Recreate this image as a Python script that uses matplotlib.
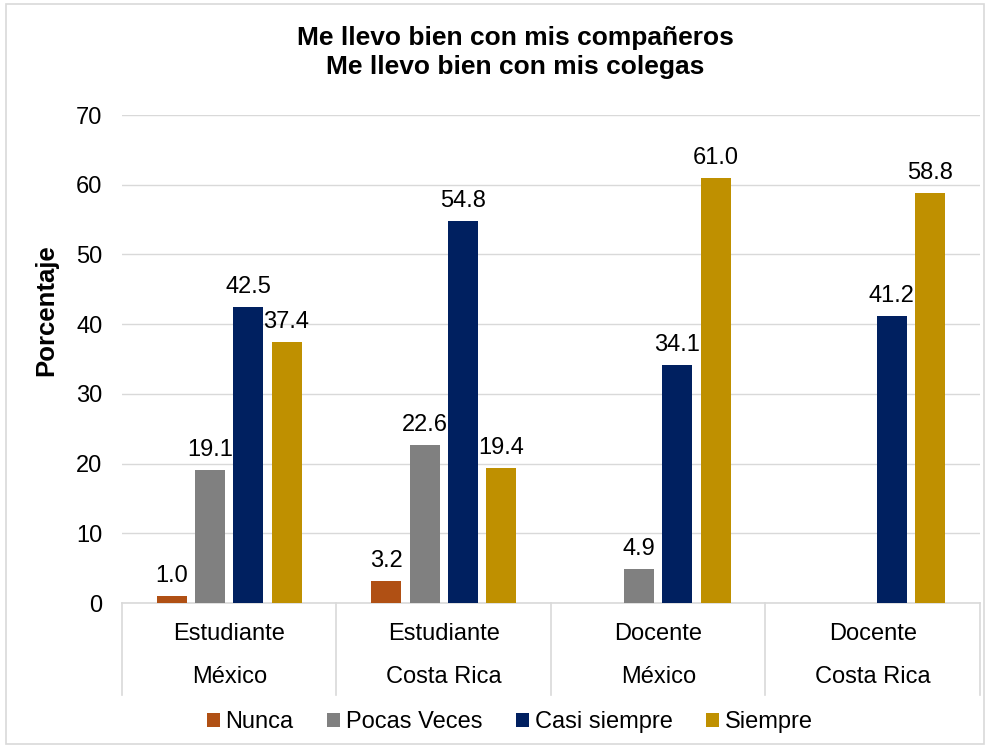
import numpy as np
import matplotlib
matplotlib.use("Agg")
import matplotlib.pyplot as plt
from matplotlib.patches import Rectangle

plt.rcParams['font.family'] = ['Liberation Sans', 'DejaVu Sans']

title = "Me llevo bien con mis compañeros\nMe llevo bien con mis colegas"
groups_top = ["Estudiante", "Estudiante", "Docente", "Docente"]
groups_bottom = ["México", "Costa Rica", "México", "Costa Rica"]
series = ["Nunca", "Pocas Veces", "Casi siempre", "Siempre"]
nunca = [1.0, 3.2, np.nan, np.nan]
pocas = [19.1, 22.6, 4.9, np.nan]
casi = [42.5, 54.8, 34.1, 41.2]
siempre = [37.4, 19.4, 61.0, 58.8]
colors = ["#B05014", "#808080", "#002060", "#BF9000"]
yticks = [0, 10, 20, 30, 40, 50, 60, 70]

values = [nunca, pocas, casi, siempre]
FS = 17

fig = plt.figure(figsize=(9.87, 7.48), dpi=100)
ax = fig.add_axes([122/987, 145/748, 858/987, 488/748])

x = np.arange(len(groups_top))
spacing = 0.178
width = 0.14
handles = []
for i, (name, vals, c) in enumerate(zip(series, values, colors)):
    off = (i - 1.5) * spacing
    v = np.array(vals, dtype=float)
    bars = ax.bar(x + off, np.nan_to_num(v), width, color=c, label=name, zorder=3)
    handles.append(bars)
    for xi, vi in zip(x + off, v):
        if not np.isnan(vi):
            ax.text(xi, vi + 1.3, f"{vi:.1f}", ha='center', va='bottom', fontsize=FS, color='#000000', zorder=4)

ax.set_xlim(-0.5, len(groups_top) - 0.5)
ax.set_ylim(0, 70)
ax.set_yticks(yticks)
ax.yaxis.grid(True, color='#D9D9D9', lw=1.0, zorder=0)
ax.set_axisbelow(True)
ax.tick_params(axis='y', length=0, labelsize=FS, pad=14)
ax.tick_params(axis='x', length=0, labelbottom=False)
for s in ['top', 'right', 'left']:
    ax.spines[s].set_visible(False)
ax.spines['bottom'].set_color('#D9D9D9')
ax.spines['bottom'].set_linewidth(1.2)

ax.set_ylabel("Porcentaje", fontsize=18.5, fontweight='bold')
ax.yaxis.set_label_coords(-0.0746, 0.600)

# category separators and labels
sep_len = 92 / 488 * 70
for b in np.arange(-0.5, len(groups_top), 1.0):
    ax.plot([b, b], [0, -sep_len], color='#D9D9D9', lw=1.2, clip_on=False)
for xi, t, bt in zip(x, groups_top, groups_bottom):
    ax.text(xi, -31/488*70, t, ha='center', va='center', fontsize=FS)
    ax.text(xi, -74/488*70, bt, ha='center', va='center', fontsize=FS)

fig.text(515/987, 1 - 26/748, title, fontsize=19, fontweight='bold', ha='center', va='top',
         linespacing=1.25)

leg = fig.legend(handles=handles, labels=series, loc='center', bbox_to_anchor=(510/987, 1 - 722/748),
                 ncol=4, frameon=False, fontsize=FS, handlelength=0.55, handleheight=0.55,
                 handletextpad=0.25, columnspacing=1.42, borderpad=0)

fig.patches.append(Rectangle((6/987, 4/748), 978/987, 740/748, transform=fig.transFigure,
                             fill=False, edgecolor='#D9D9D9', lw=1.2))

fig.savefig("out.png", dpi=100)
